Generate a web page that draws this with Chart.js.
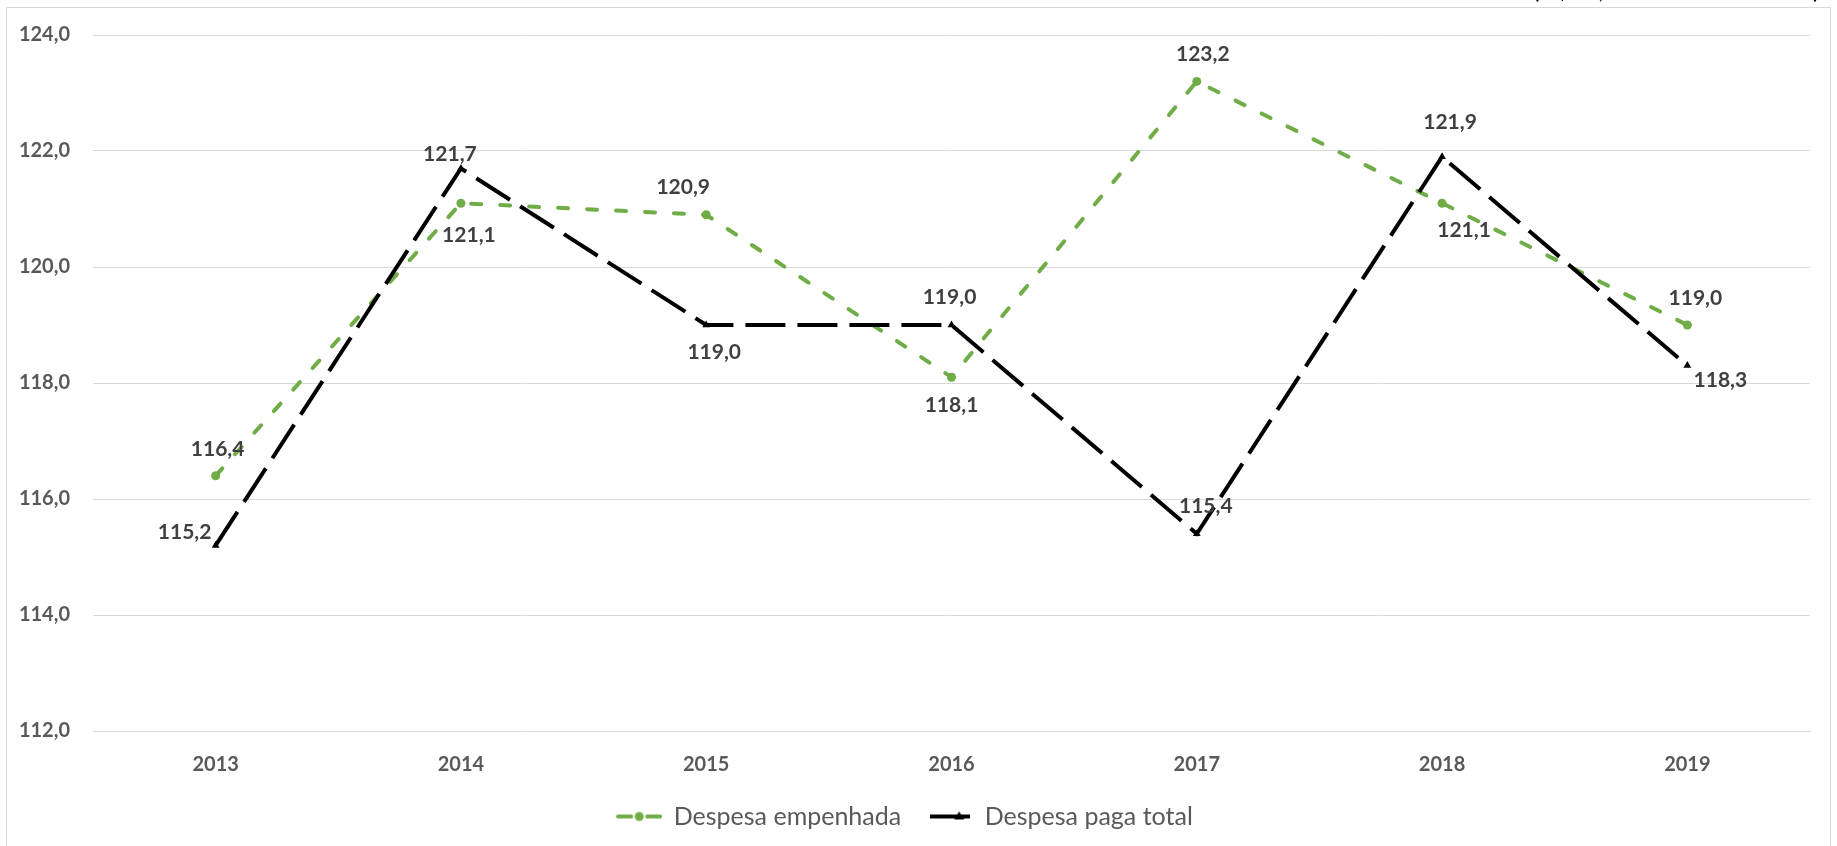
<!DOCTYPE html>
<html>
<head>
<meta charset="utf-8">
<script src="https://cdn.jsdelivr.net/npm/chart.js@4/dist/chart.umd.min.js"></script>
<style>
  html, body { margin: 0; padding: 0; background: #fff; }
  #wrap { width: 1837px; height: 846px; }
</style>
</head>
<body>
<div id="wrap"><canvas id="graficoDespesa"></canvas></div>
<script>
// Dados do gráfico
const anos = ['2013', '2014', '2015', '2016', '2017', '2018', '2019'];
const despesaEmpenhada = [116.4, 121.1, 120.9, 118.1, 123.2, 121.1, 119.0];
const despesaPagaTotal = [115.2, 121.7, 119.0, 119.0, 115.4, 121.9, 118.3];
const eixoY = { min: 112, max: 124, passo: 2 };

// Deslocamento (px) de cada rótulo em relação ao seu ponto
const deslocEmpenhada = [[2, -27], [8, 32], [-23, -28], [0, 28], [6, -27], [22, 27], [8, -27]];
const deslocPaga = [[-31, -13], [-11, -14], [8, 27], [-2, -28], [9, -28], [8, -35], [33, 15]];

const VERDE = '#70AD47';
const CINZA = '#595959';

function formatar(v) {
  return v.toFixed(1).replace('.', ',');
}

// Marcadores da legenda (linha + ponto)
function marcadorVerde() {
  const c = document.createElement('canvas');
  c.width = 46; c.height = 12;
  const g = c.getContext('2d');
  g.strokeStyle = VERDE; g.lineWidth = 4; g.lineCap = 'round';
  g.beginPath(); g.moveTo(2, 6); g.lineTo(15, 6); g.moveTo(31, 6); g.lineTo(44, 6); g.stroke();
  g.fillStyle = VERDE;
  g.beginPath(); g.arc(23, 6, 4.5, 0, Math.PI * 2); g.fill();
  return c;
}

function marcadorPreto() {
  const c = document.createElement('canvas');
  c.width = 40; c.height = 12;
  const g = c.getContext('2d');
  g.strokeStyle = '#000'; g.lineWidth = 4;
  g.beginPath(); g.moveTo(0, 6); g.lineTo(40, 6); g.stroke();
  g.fillStyle = '#000';
  g.beginPath(); g.moveTo(29, 1); g.lineTo(34, 9); g.lineTo(24, 9); g.closePath(); g.fill();
  return c;
}

// Moldura em volta do gráfico e nota cortada no topo
const molduraPlugin = {
  id: 'moldura',
  beforeDraw(chart) {
    const ctx = chart.ctx;
    ctx.save();
    ctx.strokeStyle = '#d9d9d9';
    ctx.lineWidth = 1;
    ctx.strokeRect(6.5, 7.5, 1824, 900);
    ctx.fillStyle = '#000';
    ctx.font = '26px Lato';
    ctx.textAlign = 'right';
    ctx.textBaseline = 'alphabetic';
    ctx.fillText('(R$ bi, a valores de 2019)', 1820, -2);
    ctx.restore();
  }
};

// Rótulos de dados
const rotulosPlugin = {
  id: 'rotulos',
  afterDatasetsDraw(chart) {
    const ctx = chart.ctx;
    ctx.save();
    ctx.font = 'bold 21px Lato';
    ctx.fillStyle = '#404040';
    ctx.textAlign = 'center';
    ctx.textBaseline = 'middle';
    chart.data.datasets.forEach((ds, i) => {
      const meta = chart.getDatasetMeta(i);
      meta.data.forEach((pt, j) => {
        const [dx, dy] = ds.rotulos[j];
        ctx.fillText(formatar(ds.data[j]), pt.x + dx, pt.y + dy);
      });
    });
    ctx.restore();
  }
};

const ctx = document.getElementById('graficoDespesa').getContext('2d');
new Chart(ctx, {
  type: 'line',
  data: {
    labels: anos,
    datasets: [
      {
        label: 'Despesa empenhada',
        data: despesaEmpenhada,
        rotulos: deslocEmpenhada,
        borderColor: VERDE,
        backgroundColor: VERDE,
        borderWidth: 4,
        borderDash: [10, 19],
        borderCapStyle: 'round',
        pointStyle: 'circle',
        pointRadius: 4.5,
        pointBorderWidth: 0,
        tension: 0,
        order: 1
      },
      {
        label: 'Despesa paga total',
        data: despesaPagaTotal,
        rotulos: deslocPaga,
        borderColor: '#000',
        backgroundColor: '#000',
        borderWidth: 4,
        borderDash: [40, 12],
        borderCapStyle: 'butt',
        pointStyle: 'triangle',
        pointRadius: 4.5,
        pointBorderWidth: 0,
        tension: 0,
        order: 0
      }
    ]
  },
  options: {
    responsive: true,
    maintainAspectRatio: false,
    animation: false,
    layout: { padding: { left: 0, right: 27, top: 28, bottom: 7 } },
    plugins: {
      tooltip: { enabled: false },
      legend: {
        position: 'bottom',
        labels: {
          usePointStyle: true,
          pointStyleWidth: 44,
          padding: 27,
          color: CINZA,
          font: { family: 'Lato', size: 25 },
          generateLabels: (chart) => {
            const imgs = [marcadorVerde(), marcadorPreto()];
            return chart.data.datasets.map((ds, i) => ({
              text: ds.label,
              pointStyle: imgs[i],
              fillStyle: ds.borderColor,
              strokeStyle: ds.borderColor,
              lineWidth: 0,
              hidden: false,
              fontColor: CINZA,
              datasetIndex: i
            }));
          }
        }
      }
    },
    scales: {
      x: {
        offset: true,
        grid: { display: false, drawTicks: false },
        border: { display: true, color: '#d9d9d9', width: 1 },
        ticks: {
          padding: 22,
          color: CINZA,
          font: { family: 'Lato', size: 20, weight: 'bold' }
        },
        afterFit: (scale) => { scale.height = 46; }
      },
      y: {
        min: eixoY.min,
        max: eixoY.max,
        grid: { color: '#d9d9d9', lineWidth: 1, drawTicks: false },
        border: { display: false },
        ticks: {
          stepSize: eixoY.passo,
          padding: 23,
          color: CINZA,
          font: { family: 'Lato', size: 20, weight: 'bold' },
          callback: (v) => formatar(v)
        },
        afterFit: (scale) => { scale.width = 93; }
      }
    }
  },
  plugins: [molduraPlugin, rotulosPlugin]
});
</script>
</body>
</html>
